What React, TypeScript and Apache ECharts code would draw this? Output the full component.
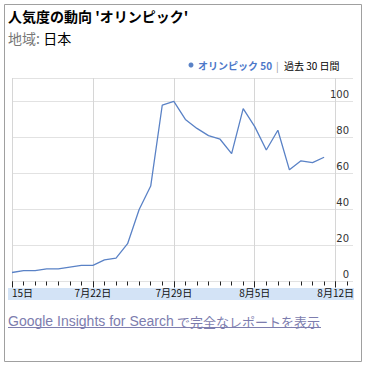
import React, { useEffect, useRef } from "react";
import * as echarts from "echarts";

// Days shown on the axis (Jul 15 .. Aug 13)
const dates = [
  "7/15", "7/16", "7/17", "7/18", "7/19", "7/20", "7/21",
  "7/22", "7/23", "7/24", "7/25", "7/26", "7/27", "7/28",
  "7/29", "7/30", "7/31", "8/1", "8/2", "8/3", "8/4",
  "8/5", "8/6", "8/7", "8/8", "8/9", "8/10", "8/11",
  "8/12", "8/13",
];
// Search interest for オリンピック, Jul 15 .. Aug 11
const values = [
  5, 6, 6, 7, 7, 8, 9,
  9, 12, 13, 21, 40, 53, 98,
  100, 90, 85, 81, 79, 71, 96,
  86, 73, 84, 62, 67, 66, 69,
];
const tickLabels = ["15日", "7月22日", "7月29日", "8月5日", "8月12日"];
const yTicks = [0, 20, 40, 60, 80, 100];

const titleText = "人気度の動向 'オリンピック'";
const regionLabel = "地域:";
const regionValue = "日本";
const legendName = "オリンピック 50";
const legendPeriod = "過去 30 日間";
const linkLatin = "Google Insights for Search";
const linkJa = "で完全なレポートを表示";

export default function App() {
  const ref = useRef<HTMLDivElement>(null);
  useEffect(() => {
    if (!ref.current) return;
    const chart = echarts.init(ref.current, null, { renderer: "svg" });
    // half-day categories so the axis can extend past the last labelled day
    const categories: string[] = [];
    dates.forEach((d) => {
      categories.push(d);
      categories.push(d + " 12h");
    });
    const seriesData = values.map((v, i) => [i * 2, v]);
    const cjk = '"Noto Sans CJK JP", sans-serif';
    const option: any = {
      animation: false,
      backgroundColor: "#fff",
      grid: { left: 12, right: 12, top: 78, bottom: 84.5, containLabel: false },
      xAxis: [
        {
          type: "category",
          data: categories,
          boundaryGap: false,
          axisLine: { show: false },
          axisTick: {
            show: true,
            length: 4,
            interval: (i: number) => i % 2 === 0,
            lineStyle: { color: "#222", width: 1 },
          },
          axisLabel: {
            show: true,
            interval: (i: number) => i % 14 === 0,
            formatter: (_v: string, i: number) => (i % 14 === 0 ? tickLabels[i / 14] : ""),
            margin: 6,
            fontSize: 10,
            fontFamily: cjk,
            color: "#111",
            alignMinLabel: "left",
          },
          splitLine: {
            show: true,
            interval: (i: number) => i % 14 === 0,
            lineStyle: { color: "#d6d6d6", width: 1 },
          },
        },
        {
          type: "category",
          data: categories,
          boundaryGap: false,
          position: "bottom",
          axisLine: { show: false },
          axisTick: {
            show: true,
            length: 6,
            interval: (i: number) => i % 14 === 0,
            lineStyle: { color: "#222", width: 1 },
          },
          axisLabel: { show: false },
          splitLine: { show: false },
        },
      ],
      yAxis: {
        type: "value",
        position: "right",
        min: 0,
        max: 113,
        interval: 20,
        axisLine: { show: false },
        axisTick: { show: false },
        axisLabel: {
          inside: true,
          margin: 4,
          verticalAlign: "bottom",
          padding: [0, 0, 2, 0],
          fontSize: 10,
          fontFamily: '"DejaVu Sans", sans-serif',
          color: "#333",
          formatter: (v: number) => (yTicks.indexOf(v) >= 0 ? String(v) : ""),
        },
        splitLine: { show: true, lineStyle: { color: "#e2e2e2", width: 1 } },
      },
      series: [
        {
          type: "line",
          xAxisIndex: 0,
          data: seriesData,
          showSymbol: false,
          symbol: "none",
          lineStyle: { color: "#5a82c6", width: 1.3 },
          z: 5,
        },
      ],
      graphic: [
        {
          type: "rect",
          z: -10,
          shape: { x: 4.5, y: 4.5, width: 357, height: 357 },
          style: { fill: "none", stroke: "#a0a0a0", lineWidth: 1 },
        },
        {
          type: "rect",
          z: -10,
          shape: { x: 8, y: 288, width: 346, height: 12 },
          style: { fill: "#d3e3f6" },
        },
        {
          type: "text",
          x: 8,
          y: 16,
          style: {
            text: titleText,
            fontSize: 14,
            fontWeight: "bold",
            fontFamily: cjk,
            fill: "#000",
            verticalAlign: "middle",
          },
        },
        {
          type: "text",
          x: 8,
          y: 38,
          style: {
            text: "{a|" + regionLabel + "} {b|" + regionValue + "}",
            verticalAlign: "middle",
            rich: {
              a: { fontSize: 14, fontFamily: cjk, fill: "#777" },
              b: { fontSize: 14, fontFamily: cjk, fill: "#000" },
            },
          },
        },
        {
          type: "circle",
          shape: { cx: 191, cy: 65, r: 2.5 },
          style: { fill: "#5a82c6" },
        },
        {
          type: "text",
          x: 198,
          y: 65,
          style: {
            text: legendName,
            fontSize: 10,
            fontWeight: "bold",
            fontFamily: cjk,
            fill: "#4d78c9",
            verticalAlign: "middle",
          },
        },
        {
          type: "text",
          x: 276,
          y: 65,
          style: { text: "|", fontSize: 10, fontFamily: cjk, fill: "#999", verticalAlign: "middle" },
        },
        {
          type: "text",
          x: 284,
          y: 65,
          style: {
            text: legendPeriod,
            fontSize: 10,
            fontFamily: cjk,
            fill: "#000",
            verticalAlign: "middle",
          },
        },
        {
          type: "text",
          x: 8,
          y: 321,
          style: {
            text: "{a|" + linkLatin + "} {b|" + linkJa + "}",
            verticalAlign: "middle",
            rich: {
              a: { fontSize: 14, fontFamily: '"Liberation Sans", Arial, sans-serif', fill: "#7d7dae" },
              b: { fontSize: 13, fontFamily: cjk, fill: "#7d7dae" },
            },
          },
        },
        {
          type: "line",
          shape: { x1: 8, y1: 327.5, x2: 321, y2: 327.5 },
          style: { stroke: "#7d7dae", lineWidth: 1 },
        },
      ],
    };
    chart.setOption(option);
    return () => chart.dispose();
  }, []);
  return (
    <div
      ref={ref}
      style={{ position: "absolute", left: 0, top: 0, width: 365, height: 366 }}
    />
  );
}
